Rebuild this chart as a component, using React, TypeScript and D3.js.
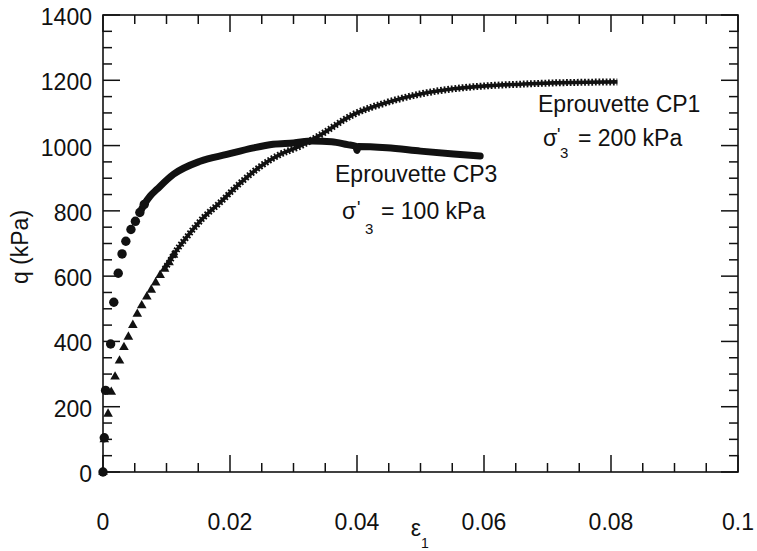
import React from "react";
import * as d3 from "d3";

// ---- data ----
// Eprouvette CP1 (triangles), sigma'3 = 200 kPa
const EPS_CP1 = [0, 0.0002, 0.0008, 0.0013, 0.0019, 0.0026, 0.0033, 0.004, 0.0047, 0.0054, 0.0061, 0.0069, 0.0076, 0.0083, 0.009, 0.0097, 0.0104, 0.0111, 0.0132, 0.0158, 0.0184, 0.0216, 0.0247, 0.0279, 0.031, 0.034, 0.0394, 0.0447, 0.05, 0.0552, 0.0604, 0.0657, 0.071, 0.076, 0.081];
const Q_CP1 = [0, 100, 178, 245, 292, 341, 382, 414, 450, 484, 510, 537, 558, 580, 603, 622, 642, 665, 720, 779, 825, 885, 935, 973, 998, 1030, 1095, 1132, 1158, 1174, 1183, 1188, 1192, 1194, 1195];

// Eprouvette CP3 (circles), sigma'3 = 100 kPa
const EPS_CP3 = [0, 0.0002, 0.0004, 0.0012, 0.0017, 0.0024, 0.003, 0.0036, 0.0044, 0.0051, 0.0058, 0.0065, 0.0074, 0.0085, 0.0111, 0.0153, 0.0195, 0.0237, 0.0268, 0.03, 0.033, 0.036, 0.0385, 0.0398, 0.04, 0.0402, 0.0447, 0.05, 0.0552, 0.0594];
const Q_CP3 = [0, 105, 250, 392, 520, 609, 668, 707, 743, 768, 795, 820, 845, 866, 912, 952, 973, 993, 1004, 1008, 1014, 1012, 1003, 998, 985, 997, 993, 983, 974, 968];

const X_TICKS = [0, 0.02, 0.04, 0.06, 0.08, 0.1];
const X_TICK_LABELS = ["0", "0.02", "0.04", "0.06", "0.08", "0.1"];
const Y_TICKS = [0, 200, 400, 600, 800, 1000, 1200, 1400];
const Y_TICK_LABELS = ["0", "200", "400", "600", "800", "1000", "1200", "1400"];
const X_MINOR_STEP = 0.005;
const Y_MINOR_STEP = 50;

const W = 757;
const H = 551;
const L = 103, R = 738, T = 15, B = 472;
const FONT = "'Liberation Sans', Arial, Helvetica, sans-serif";

export default function App() {
  const x = d3.scaleLinear().domain([0, 0.1]).range([L, R]);
  const y = d3.scaleLinear().domain([0, 1400]).range([B, T]);

  const cp1 = EPS_CP1.map((e, i) => ({ e, q: Q_CP1[i] }));
  const cp3 = EPS_CP3.map((e, i) => ({ e, q: Q_CP3[i] }));

  const line = d3
    .line<{ e: number; q: number }>()
    .x((d) => x(d.e))
    .y((d) => y(d.q))
    .curve(d3.curveMonotoneX);

  const cp1Dense = cp1.filter((d) => d.e >= 0.0097);
  const cp1Sparse = cp1.filter((d) => d.e <= 0.0111);
  const cp3Dense = cp3.filter((d) => d.e >= 0.0058);
  const cp3Sparse = cp3.filter((d) => d.e <= 0.0065);

  const tri = d3.symbol().type(d3.symbolTriangle).size(40)();

  const xMinor = d3.range(0, 0.1 + 1e-9, X_MINOR_STEP);
  const yMinor = d3.range(0, 1400 + 1e-9, Y_MINOR_STEP);
  const isMajorX = (v: number) => Math.abs(v / 0.02 - Math.round(v / 0.02)) < 1e-6;
  const isMajorY = (v: number) => v % 200 === 0;
  const MAJ = 17, MIN = 9;

  return (
    <svg
      width={W}
      height={H}
      style={{ position: "absolute", left: 0, top: 0, background: "#fff" }}
      fontFamily={FONT}
    >
      <rect x={0} y={0} width={W} height={H} fill="#fff" />
      {/* frame */}
      <rect x={L} y={T} width={R - L} height={B - T} fill="none" stroke="#111" strokeWidth={1.6} />
      {/* x ticks bottom & top */}
      {xMinor.map((v, i) => {
        const len = isMajorX(v) ? MAJ : MIN;
        return (
          <g key={"xt" + i} stroke="#111" strokeWidth={1.5}>
            <line x1={x(v)} x2={x(v)} y1={B} y2={B - len} />
            <line x1={x(v)} x2={x(v)} y1={T} y2={T + len} />
          </g>
        );
      })}
      {/* y ticks left & right */}
      {yMinor.map((v, i) => {
        const len = isMajorY(v) ? MAJ : MIN;
        return (
          <g key={"yt" + i} stroke="#111" strokeWidth={1.5}>
            <line x1={L} x2={L + len} y1={y(v)} y2={y(v)} />
            <line x1={R} x2={R - len} y1={y(v)} y2={y(v)} />
          </g>
        );
      })}
      {/* tick labels */}
      {X_TICKS.map((v, i) => (
        <text key={"xl" + i} x={x(v)} y={530} textAnchor="middle" fontSize={23} fill="#111">
          {X_TICK_LABELS[i]}
        </text>
      ))}
      {Y_TICKS.map((v, i) => (
        <text key={"yl" + i} x={92} y={y(v) + 10} textAnchor="end" fontSize={23} fill="#111">
          {Y_TICK_LABELS[i]}
        </text>
      ))}
      {/* axis titles */}
      <text transform="translate(28,247) rotate(-90)" textAnchor="middle" fontSize={23} fill="#111">
        q (kPa)
      </text>
      <text x={416} y={536} textAnchor="middle" fontSize={23} fill="#111">ε</text>
      <text x={425} y={548} textAnchor="middle" fontSize={14} fill="#111">1</text>

      {/* CP1 series */}
      <path d={line(cp1Dense) || ""} fill="none" stroke="#111" strokeWidth={3.6} />
      <path d={line(cp1Dense) || ""} fill="none" stroke="#111" strokeWidth={7} strokeDasharray="1.8 1.8" />
      {cp1Sparse.map((d, i) => (
        <path key={"t" + i} d={tri || ""} transform={`translate(${x(d.e)},${y(d.q)})`} fill="#111" />
      ))}

      {/* CP3 series */}
      <path d={line(cp3Dense) || ""} fill="none" stroke="#111" strokeWidth={7} strokeLinecap="round" strokeLinejoin="round" />
      {cp3Sparse.map((d, i) => (
        <circle key={"c" + i} cx={x(d.e)} cy={y(d.q)} r={4.7} fill="#111" />
      ))}

      {/* annotations */}
      <g fontSize={23} fill="#111">
        <text x={538} y={112}>Eprouvette CP1</text>
        <text x={543} y={146}>σ</text>
        <text x={557} y={141} fontSize={18}>'</text>
        <text x={560} y={158} fontSize={15}>3</text>
        <text x={578} y={146}>= 200 kPa</text>

        <text x={335} y={182}>Eprouvette CP3</text>
        <text x={342} y={219}>σ</text>
        <text x={357} y={214} fontSize={18}>'</text>
        <text x={365} y={234} fontSize={15}>3</text>
        <text x={381} y={219}>= 100 kPa</text>
      </g>
    </svg>
  );
}
